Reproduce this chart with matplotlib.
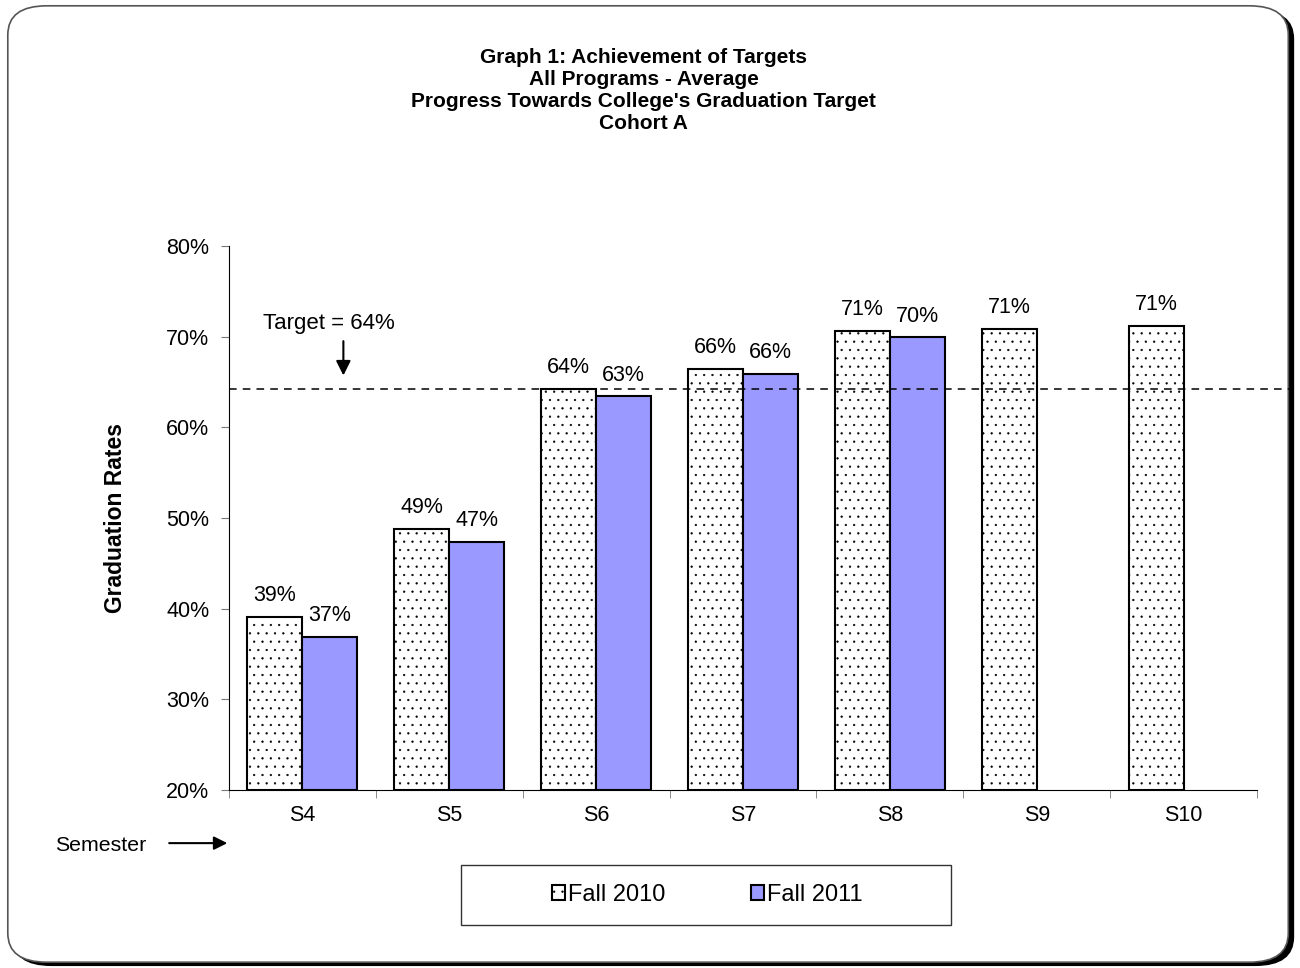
import numpy as np
import matplotlib
matplotlib.use('Agg')
import matplotlib.pyplot as plt
from matplotlib.patches import FancyBboxPatch, Rectangle, FancyArrowPatch

plt.rcParams['font.family'] = ['Liberation Sans', 'DejaVu Sans']
plt.rcParams['hatch.linewidth'] = 0.4

semesters = ['S4', 'S5', 'S6', 'S7', 'S8', 'S9', 'S10']
fall_2010 = [39.1, 48.8, 64.2, 66.4, 70.6, 70.8, 71.2]
fall_2011 = [36.9, 47.3, 63.4, 65.9, 69.9, None, None]
target = 64.2

fig = plt.figure(figsize=(13, 9.68), dpi=100)

# rounded border with shadow
shadow = FancyBboxPatch((0.0095, 0.002), 0.986, 0.988, boxstyle='round,pad=0,rounding_size=0.03',
                        transform=fig.transFigure, facecolor='black', edgecolor='none', zorder=-2)
frame = FancyBboxPatch((0.006, 0.006), 0.985, 0.988, boxstyle='round,pad=0,rounding_size=0.03',
                       transform=fig.transFigure, facecolor='white', edgecolor='#555555',
                       linewidth=1.2, zorder=-1)
fig.patches.extend([shadow, frame])

ax = fig.add_axes([0.176, 0.184, 0.791, 0.562])
ax.set_facecolor('none')

x = np.arange(len(semesters))
w = 0.374
b1 = ax.bar(x - w / 2, [v - 20 for v in fall_2010], w, bottom=20, color='white',
            edgecolor='black', hatch='..', linewidth=1.5, label='Fall 2010')
x2 = [i for i, v in enumerate(fall_2011) if v is not None]
v2 = [v for v in fall_2011 if v is not None]
b2 = ax.bar(np.array(x2) + w / 2, [v - 20 for v in v2], w, bottom=20, color='#9999FF',
            edgecolor='black', linewidth=1.5, label='Fall 2011')

for i, v in enumerate(fall_2010):
    ax.text(i - w / 2, v + 1.2, '%d%%' % round(v), ha='center', va='bottom', fontsize=15.5)
for i, v in zip(x2, v2):
    ax.text(i + w / 2, v + 1.2, '%d%%' % round(v), ha='center', va='bottom', fontsize=15.5)

ax.plot([-0.5, 6.72], [target, target], color='black', linewidth=1.1, clip_on=False,
        dashes=(5, 4))
ax.text(-0.27, 71.4, 'Target = %d%%' % round(target), fontsize=16, va='center')
ax.annotate('', xy=(0.28, 65.4), xytext=(0.28, 69.8),
            arrowprops=dict(arrowstyle='-|>', color='black', lw=1.5, mutation_scale=22))

ax.set_xlim(-0.5, len(semesters) - 0.5)
ax.set_ylim(20, 80)
ax.set_yticks(range(20, 81, 10))
ax.set_yticklabels(['%d%%' % t for t in range(20, 81, 10)], fontsize=15.5)
ax.set_xticks(x)
ax.set_xticklabels(semesters, fontsize=15.5)
ax.set_xticks(np.arange(-0.5, len(semesters), 1), minor=True)
ax.tick_params(axis='x', which='major', length=0, pad=11)
ax.tick_params(axis='x', which='minor', length=6, direction='out', color='#777777')
ax.tick_params(axis='y', direction='out', length=6, color='#777777', pad=8)
ax.spines['top'].set_visible(False)
ax.spines['right'].set_visible(False)
ax.spines['left'].set_color('black')
ax.spines['bottom'].set_color('black')
ax.set_ylabel('Graduation Rates', fontsize=16.5, fontweight='bold', labelpad=28)

fig.text(0.495, 0.907, 'Graph 1: Achievement of Targets\nAll Programs - Average\n'
         "Progress Towards College's Graduation Target\nCohort A",
         ha='center', va='center', fontsize=15, fontweight='bold', linespacing=1.2)

fig.text(0.042, 0.127, 'Semester', fontsize=15.3, va='center')
fig.patches.append(FancyArrowPatch(
    (0.128, 0.129), (0.177, 0.129), transform=fig.transFigure, arrowstyle='-|>',
    mutation_scale=20, color='black', lw=1.5))

# legend box
fig.patches.append(Rectangle((461 / 1300, 1 - 925 / 968), 490 / 1300, 60 / 968,
                             transform=fig.transFigure, facecolor='white',
                             edgecolor='#333333', linewidth=1.0))
leg = fig.legend(handles=[b1, b2], loc='center', bbox_to_anchor=(0.544, 0.0755),
                 ncol=2, fontsize=17, frameon=False,
                 handlelength=0.55, handleheight=0.55, handletextpad=0.15, columnspacing=3.6)

fig.savefig('out.png', dpi=100)
